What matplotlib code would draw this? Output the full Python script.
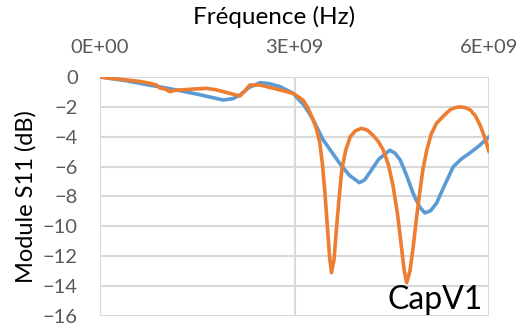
import matplotlib.pyplot as plt

freq_blue = [0, 0.4e9, 0.77e9, 1.1e9, 1.5e9, 1.9e9, 2.05e9, 2.16e9, 2.3e9, 2.47e9, 2.62e9,
             2.78e9, 2.98e9, 3.15e9, 3.29e9, 3.44e9, 3.57e9, 3.7e9, 3.85e9, 4.0e9, 4.08e9,
             4.16e9, 4.3e9, 4.47e9, 4.55e9, 4.63e9, 4.73e9, 4.83e9, 4.93e9, 5.01e9, 5.1e9,
             5.19e9, 5.32e9, 5.45e9, 5.57e9, 5.7e9, 5.85e9, 6.0e9]
s11_blue = [0, -0.25, -0.55, -0.8, -1.15, -1.54, -1.45, -1.2, -0.7, -0.38, -0.45,
            -0.65, -1.1, -1.9, -2.88, -4.2, -5.0, -5.8, -6.6, -7.07, -6.9,
            -6.4, -5.5, -4.9, -5.1, -5.55, -6.6, -7.8, -8.7, -9.1, -8.95,
            -8.45, -7.2, -6.0, -5.5, -5.1, -4.6, -4.0]

# Orange curve
freq_orange = [0, 0.3e9, 0.62e9, 0.8e9, 0.87e9, 0.93e9, 1.0e9, 1.08e9, 1.15e9, 1.23e9, 1.4e9,
               1.64e9, 1.78e9, 1.9e9, 2.05e9, 2.16e9, 2.24e9, 2.31e9, 2.47e9, 2.62e9, 2.78e9,
               2.98e9, 3.13e9, 3.21e9, 3.29e9, 3.34e9, 3.39e9, 3.43e9, 3.47e9, 3.51e9, 3.54e9,
               3.57e9, 3.61e9, 3.65e9, 3.69e9, 3.73e9, 3.79e9, 3.86e9, 3.94e9, 4.03e9, 4.12e9,
               4.21e9, 4.29e9, 4.37e9, 4.45e9, 4.52e9, 4.59e9, 4.65e9, 4.69e9, 4.73e9, 4.78e9,
               4.83e9, 4.88e9, 4.93e9, 4.98e9, 5.04e9, 5.11e9, 5.19e9, 5.3e9, 5.4e9, 5.48e9,
               5.55e9, 5.63e9, 5.71e9, 5.79e9, 5.86e9, 5.93e9, 6.0e9]
s11_orange = [0, -0.15, -0.3, -0.45, -0.54, -0.75, -0.8, -0.98, -0.9, -0.87, -0.82,
              -0.76, -0.85, -0.98, -1.15, -1.27, -0.9, -0.54, -0.54, -0.7, -0.87,
              -1.1, -1.54, -2.1, -2.9, -3.5, -4.4, -5.8, -7.8, -10.2, -12.0,
              -13.1, -12.2, -10.0, -8.0, -6.2, -4.9, -4.0, -3.6, -3.44, -3.55,
              -3.9, -4.3, -4.9, -5.9, -7.3, -9.2, -11.4, -12.9, -13.77, -13.0,
              -11.4, -9.5, -7.8, -6.2, -4.9, -3.8, -3.1, -2.6, -2.2, -2.05,
              -2.0, -2.05, -2.2, -2.6, -3.2, -4.0, -5.0]

x_ticks = [0, 3e9, 6e9]
x_tick_labels = ['0E+00', '3E+09', '6E+09']
y_ticks = [0, -2, -4, -6, -8, -10, -12, -14, -16]

plt.rcParams['font.family'] = ['Lato', 'DejaVu Sans']

fig = plt.figure(figsize=(5.2, 3.29), dpi=100)
ax = fig.add_axes([0.1923, 0.0395, 0.7481, 0.7265])

ax.plot(freq_blue, s11_blue, color='#5B9BD5', linewidth=2.6, solid_capstyle='round')
ax.plot(freq_orange, s11_orange, color='#ED7D31', linewidth=2.6, solid_capstyle='round')

ax.set_xlim(0, 6e9)
ax.set_ylim(-16, 0)
ax.xaxis.tick_top()
ax.xaxis.set_label_position('top')
ax.set_xticks(x_ticks)
ax.set_xticklabels(x_tick_labels)
ax.set_yticks(y_ticks)
ax.tick_params(length=0, labelsize=14.5, labelcolor='#595959')
ax.tick_params(axis='y', pad=16)
ax.tick_params(axis='x', pad=15)
ax.grid(True, color='#d9d9d9', linewidth=1.5)
ax.set_axisbelow(True)
for s in ax.spines.values():
    s.set_visible(False)

ax.set_xlabel('Fréquence (Hz)', fontsize=17.5)
ax.xaxis.set_label_coords(0.447, 1.251)
ax.xaxis.label.set_va('center')
ax.set_ylabel('Module S11 (dB)', fontsize=17)
ax.yaxis.set_label_coords(-0.19, 0.5)
ax.yaxis.label.set_va('center')

ax.text(0.985, 0.005, 'CapV1', transform=ax.transAxes, ha='right', va='bottom',
        fontsize=23, color='black')

fig.savefig('out.png', dpi=100)
